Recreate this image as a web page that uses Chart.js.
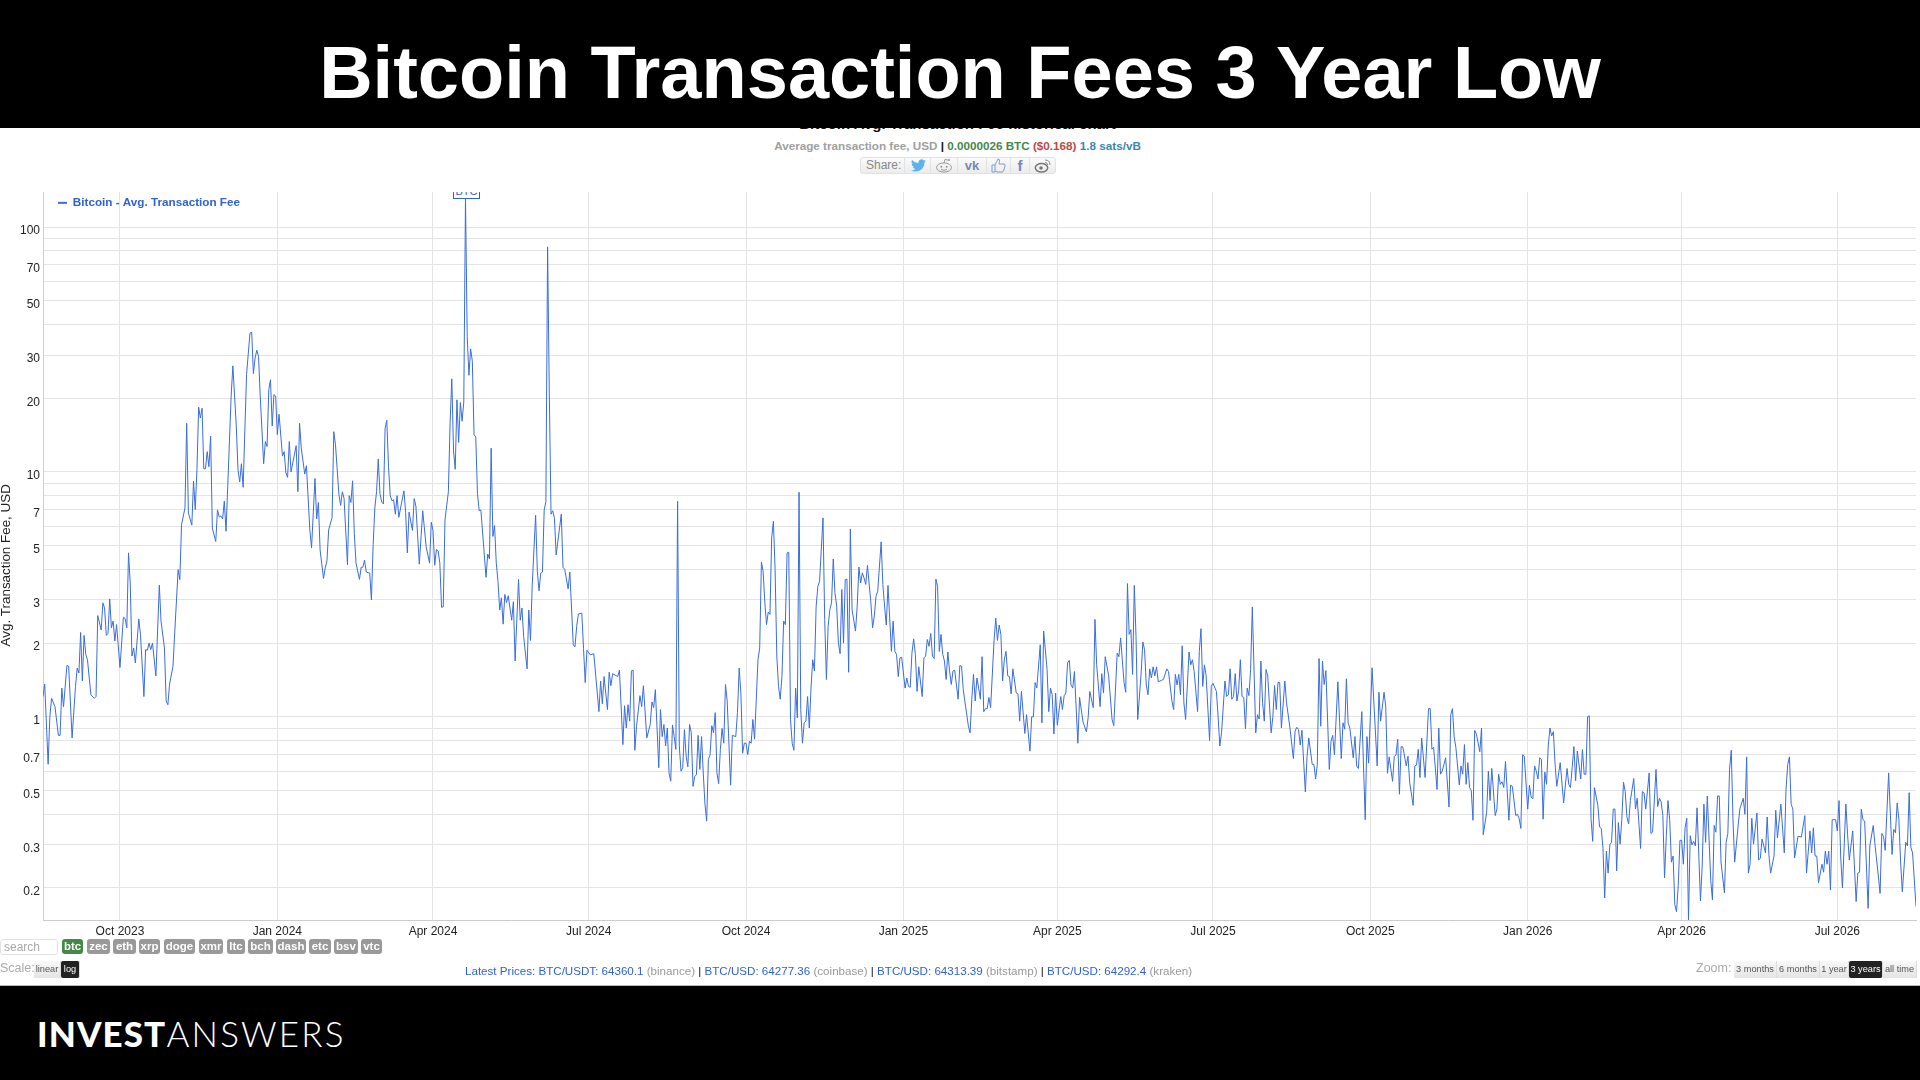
<!DOCTYPE html>
<html>
<head>
<meta charset="utf-8">
<title>Bitcoin Transaction Fees 3 Year Low</title>
<script src="https://cdn.jsdelivr.net/npm/chart.js@4"></script>
<style>
    html, body { margin: 0; padding: 0; width: 1920px; height: 1080px; overflow: hidden; background: #fff; font-family: 'Liberation Sans', Arial, sans-serif; }
    .abs { position: absolute; white-space: nowrap; }
    #topBand { left: 0; top: 0; width: 1920px; height: 128px; background: #000; z-index: 5; }
    #mainTitle { left: 0; top: 28px; width: 1920px; text-align: center; color: #fff; font-weight: bold; font-size: 74px; line-height: 90px; z-index: 6; }
    #bottomBand { left: 0; top: 985px; width: 1920px; height: 95px; background: #000; border-top: 1px solid #bbb; box-sizing: border-box; z-index: 5; }
    #logo { left: 37px; top: 1013px; color: #fff; font-family: Lato, sans-serif; font-size: 35px; line-height: 40px; z-index: 6; }
    #logo b { font-weight: 900; letter-spacing: 1.1px; }
    #logo span { font-weight: 300; letter-spacing: 2.2px; }
    #chartTitle { left: 0; top: 115px; width: 1915px; text-align: center; font-weight: bold; font-size: 15px; line-height: 18px; color: #111; }
    #subTitle { left: 0; top: 138px; width: 1915px; text-align: center; font-weight: bold; font-size: 11.7px; line-height: 15px; color: #a0a0a0; }
    #shareBar { left: 860px; top: 157px; width: 196px; height: 17px; background: linear-gradient(#fafafa, #ececec); border: 1px solid #e2e2e2; border-radius: 3px; box-sizing: border-box; }
    #shareBar .cell { position: absolute; top: 0; height: 15px; border-left: 1px solid #e2e2e2; text-align: center; }
    #shareBar .txt { position: absolute; left: 5px; top: 0; font-size: 12px; line-height: 15px; color: #888; }
    #btcFlag { left: 453px; top: 192px; width: 27px; height: 7px; overflow: hidden; z-index: 3; }
    #btcFlag div { position: absolute; left: 0; bottom: 0; width: 25px; height: 13px; border: 1px solid #2f62d4; background: #fff; color: #2f62d4; font-size: 11px; line-height: 13px; text-align: center; }
    .tag { position: absolute; top: 939px; height: 15px; line-height: 15px; background: #999; color: #fff; font-weight: bold; font-size: 11.5px; text-align: center; border-radius: 3px; }
    #search { left: 0; top: 939px; width: 58px; height: 16px; border: 1px solid #e2e2e2; border-radius: 3px; box-sizing: border-box; color: #aaa; font-size: 12px; line-height: 15px; padding-left: 3px; }
    .lbl { color: #aaa; font-size: 12.5px; line-height: 15px; top: 961px; }
    .btn { position: absolute; top: 961px; height: 17px; line-height: 17px; font-size: 9.2px; text-align: center; color: #555; background: linear-gradient(#f8f8f8, #e4e4e4); box-sizing: border-box; border-right: 1px solid #ddd; }
    .btn.on { background: #222; color: #fff; border-radius: 2px; }
    #prices { left: 465px; top: 963px; font-size: 11.6px; line-height: 15px; color: #2f62d4; }
    #prices i { font-style: normal; color: #999; }
    #prices u { text-decoration: none; color: #111; }
    #wrap { position: absolute; left: 0; top: 180px; width: 1920px; height: 790px; }
</style>
</head>
<body>
<div id="topBand" class="abs"></div>
<div id="mainTitle" class="abs">Bitcoin Transaction Fees 3 Year Low</div>
<div id="chartTitle" class="abs">Bitcoin Avg. Transaction Fee historical chart</div>
<div id="subTitle" class="abs">Average transaction fee, USD <span style="color:#111">|</span> <span style="color:#468847">0.0000026 BTC</span> <span style="color:#b94a48">($0.168)</span> <span style="color:#3a87ad">1.8 sats/vB</span></div>
<div id="shareBar" class="abs">
    <div class="txt">Share:</div>
    <div class="cell" style="left:43px;width:26px"><svg width="17" height="15" viewBox="0 0 24 24"><path fill="#5db2ec" d="M24 4.6a10 10 0 0 1-2.8.8 4.9 4.9 0 0 0 2.2-2.7 9.9 9.9 0 0 1-3.1 1.2 4.9 4.9 0 0 0-8.4 4.5A14 14 0 0 1 1.7 3.1a4.9 4.9 0 0 0 1.5 6.6 4.9 4.9 0 0 1-2.2-.6v.1a4.9 4.9 0 0 0 3.9 4.8 4.9 4.9 0 0 1-2.2.1 4.9 4.9 0 0 0 4.6 3.4A9.9 9.9 0 0 1 0 19.5a14 14 0 0 0 7.5 2.2c9 0 14-7.5 14-14v-.6A10 10 0 0 0 24 4.6z"/></svg></div>
    <div class="cell" style="left:69px;width:26px"><svg width="18" height="15" viewBox="0 0 18 15"><ellipse cx="9" cy="9.5" rx="7.5" ry="4.6" fill="none" stroke="#999"/><circle cx="6.3" cy="8.7" r="1" fill="#999"/><circle cx="11.7" cy="8.7" r="1" fill="#999"/><path d="M6 11.5q3 1.6 6 0M9 5l1-3.5 3 .6" fill="none" stroke="#999"/><circle cx="14" cy="2" r="1" fill="#999"/></svg></div>
    <div class="cell" style="left:96px;width:28px;color:#6f8bb0;font-weight:bold;font-size:13px;line-height:15px">vk</div>
    <div class="cell" style="left:125px;width:23px"><svg width="15" height="15" viewBox="0 0 15 15"><path d="M1 7h3v7H1zM4 7l3-6q2 0 1.5 2.5L8 6h5q1.500 0 1 2l-1.500 5q-.4 1-1.500 1H6l-2-1" fill="none" stroke="#7f9bd0"/></svg></div>
    <div class="cell" style="left:149px;width:18px;color:#7088ba;font-weight:bold;font-size:15px;line-height:15px">f</div>
    <div class="cell" style="left:168px;width:26px"><svg width="18" height="15" viewBox="0 0 18 15"><ellipse cx="7.500" cy="9.800" rx="6.200" ry="4.200" fill="none" stroke="#777" stroke-width="1.500"/><circle cx="7" cy="10" r="1.800" fill="#777"/><path d="M11 2q5 0 5 5M11 4.500q2.500 0 2.500 2.500" fill="none" stroke="#888"/></svg></div>
</div>
<div id="wrap"><canvas id="feeChart" width="1920" height="790"></canvas></div>
<div id="btcFlag" class="abs"><div>BTC</div></div>
<div id="search" class="abs">search</div>
<div class="tag" style="left:62px;width:21px;background:#468847">btc</div>
<div class="tag" style="left:87px;width:23px">zec</div>
<div class="tag" style="left:113px;width:23px">eth</div>
<div class="tag" style="left:139px;width:21px">xrp</div>
<div class="tag" style="left:164px;width:31px">doge</div>
<div class="tag" style="left:199px;width:24px">xmr</div>
<div class="tag" style="left:227px;width:18px">ltc</div>
<div class="tag" style="left:248px;width:25px">bch</div>
<div class="tag" style="left:276px;width:30px">dash</div>
<div class="tag" style="left:309px;width:22px">etc</div>
<div class="tag" style="left:334px;width:24px">bsv</div>
<div class="tag" style="left:361px;width:21px">vtc</div>
<div class="abs lbl" style="left:0">Scale:</div>
<div class="btn" style="left:34px;width:27px">linear</div>
<div class="btn on" style="left:61px;width:19px">log</div>
<div id="prices" class="abs">Latest Prices: BTC/USDT: 64360.1 <i>(binance)</i> <u>|</u> BTC/USD: 64277.36 <i>(coinbase)</i> <u>|</u> BTC/USD: 64313.39 <i>(bitstamp)</i> <u>|</u> BTC/USD: 64292.4 <i>(kraken)</i></div>
<div class="abs lbl" style="left:1696px">Zoom:</div>
<div class="btn" style="left:1734px;width:43px">3 months</div>
<div class="btn" style="left:1777px;width:43px">6 months</div>
<div class="btn" style="left:1820px;width:29px">1 year</div>
<div class="btn on" style="left:1849px;width:34px">3 years</div>
<div class="btn" style="left:1883px;width:34px">all time</div>
<div id="bottomBand" class="abs"></div>
<div id="logo" class="abs"><b>INVEST</b><span>ANSWERS</span></div>

<script>
// Dias contados desde 2023-08-17
const days = [
    0,1,3,4,5,7,9,10,11,12,
    14,15,17,19,20,21,22,23,24,25,
    26,28,30,31,32,34,35,36,37,38,
    39,40,41,42,43,45,47,48,49,50,
    51,52,53,54,56,57,59,60,61,62,
    63,64,66,68,69,71,72,73,74,76,
    77,79,80,81,83,84,85,87,88,89,
    90,91,92,93,94,95,96,97,98,99,
    101,102,103,104,105,106,107,108,110,111,
    113,114,115,116,117,119,121,122,123,124,
    125,126,127,129,130,131,132,133,134,135,
    136,137,138,140,141,142,143,144,145,148,
    149,150,151,153,154,156,157,159,160,161,
    162,164,165,166,167,169,170,171,173,174,
    175,176,178,179,180,181,182,
    183,185,186,187,188,189,191,192,193,194,
    195,196,197,198,199,200,201,202,203,204,
    205,206,207,208,211,212,213,214,216,217,
    218,220,222,224,226,227,228,229,230,231,
    232,233,234,235,237,238,239,240,241,242,
    243,244,245,246,247,248,249,250,251,252,
    253,254,255,256,259,260,261,262,263,264,
    265,266,267,268,269,270,271,272,274,275,
    276,278,279,280,281,283,284,285,286,288,
    289,290,291,292,293,294,295,296,297,298,
    299,300,303,304,305,307,308,310,311,312,
    313,315,316,317,318,320,322,325,326,327,
    328,330,331,332,333,336,337,339,340,341,
    342,343,344,345,346,347,349,350,351,353,
    355,356,357,358,360,361,362,363,364,365,
    366,367,368,369,370,371,372,373,374,375,
    376,377,378,379,380,381,382,383,384,385,
    386,387,388,389,390,391,392,393,394,395,
    396,397,398,399,400,402,403,405,406,407,
    408,409,410,411,412,413,414,415,416,417,
    418,419,420,421,422,423,424,425,426,427,
    428,429,430,431,432,433,434,435,436,437,
    438,439,440,441,442,443,444,445,446,447,
    448,449,450,451,452,453,454,456,457,458,
    459,460,461,462,463,464,465,466,467,468,
    469,470,471,472,473,475,476,477,478,479,
    480,481,482,484,485,486,487,488,490,491,
    492,493,494,496,497,498,499,500,501,502,
    504,505,506,507,508,509,510,511,512,514,
    515,516,517,518,519,520,521,522,523,524,
    525,526,527,528,529,530,531,532,533,535,
    536,537,538,541,542,543,544,545,546,547,
    548,549,550,551,552,553,554,556,557,558,
    559,560,561,562,563,564,565,566,567,569,
    570,571,572,574,575,577,578,579,580,581,
    583,584,585,587,588,589,590,591,592,593,
    595,596,597,598,599,600,601,602,603,605,
    606,608,610,611,612,614,615,616,618,619,
    620,621,623,625,626,628,629,630,632,633,
    634,635,636,637,638,639,640,642,643,644,
    645,646,647,648,649,650,651,652,654,655,
    657,658,660,661,662,663,664,665,666,667,
    668,670,671,672,673,675,676,677,678,679,
    680,682,683,684,686,687,688,689,691,692,
    693,694,695,696,697,698,699,700,701,702,
    703,704,705,706,707,709,710,711,712,713,
    714,715,716,718,719,720,721,722,723,724,
    726,727,729,
    731,732,733,734,735,736,738,739,740,742,
    743,744,745,746,747,748,749,750,752,753,
    754,755,757,759,760,761,762,763,764,766,
    767,768,769,771,773,774,775,776,777,780,
    781,782,784,785,786,787,789,790,791,792,
    793,794,795,797,798,799,801,802,803,804,
    805,806,808,810,811,812,813,815,816,817,
    818,820,822,823,824,825,826,828,829,830,
    831,832,833,834,835,836,837,838,840,841,
    842,844,845,846,847,849,850,851,852,853,
    854,855,857,858,859,861,862,863,864,865,
    866,868,869,870,871,872,873,874,875,876,
    877,878,879,880,881,882,883,884,885,887,
    889,891,892,893,895,896,897,899,900,901,
    902,903,904,905,906,907,909,910,911,912,
    913,914,915,916,917,918,919,920,921,922,
    923,924,925,926,927,928,930,931,932,934,
    935,936,937,939,940,941,943,944,945,946,
    947,948,949,950,951,952,953,954,955,956,
    957,958,959,960,961,962,963,964,965,966,
    967,969,970,971,972,973,975,976,977,978,
    979,980,981,983,984,985,986,987,988,989,
    991,992,994,995,996,997,998,999,1000,1002,
    1003,1004,1005,1007,1008,1009,1010,1012,1013,1014,
    1016,1018,1019,1020,1021,1022,1023,1024,1026,1028,
    1030,1031,1033,1034,1035,1036,1037,1038,1040,1041,
    1042,1043,1044,1045,1046,1048,1049,1050,1051,1052,
    1054,1055,1056,1058,1060,1061,1062,1063,1064,1065,
    1067,1068,1070,1071,1072,1074,1075,1076,1077,1079,
    1081,1082,1083,1084,1085,1086,1087,1089,1090,1091,
    1092,1093,1095
];

const fees = [
    1.21,1.36,.64,1.0,1.19,1.10,.84,.84,1.31,1.10,
    1.62,1.61,.82,1.33,1.58,1.51,2.21,1.40,2.15,1.80,
    1.71,1.23,1.19,1.21,2.59,2.26,2.92,2.78,2.15,2.19,
    3.03,2.31,2.46,2.04,2.38,1.59,2.55,2.52,2.31,4.67,
    3.52,1.77,1.91,1.66,2.51,2.17,1.21,1.88,1.87,2.0,
    1.88,2.0,1.47,3.45,2.46,1.91,1.16,1.12,1.36,1.61,
    2.2,3.99,3.63,6.09,7.13,15.8,6.8,6.06,9.16,7.02,
    10.2,18.4,16.6,18.2,10.3,10.3,12.1,10.5,14.0,5.9,
    5.2,7.0,6.55,6.6,6.43,7.6,5.72,8.7,20.4,27.1,
    15.4,10.2,9.1,10.8,8.65,25,36.9,37.2,25.2,29.2,
    31.4,29.6,20.4,10.8,13.3,12.7,21.7,23.8,15.4,20.7,
    20.4,14.2,17.2,11.6,12.1,9.9,9.5,13.3,10,12.8,
    8.3,15.8,12.5,9.8,10.6,5.8,4.9,9.4,6.43,7.5,
    4.8,3.67,4.06,4.32,5.8,6.5,14.6,12.9,8.1,7.3,
    8.3,7.8,4.18,8.0,7.5,9.2,5.6,
    4.24,3.64,4.08,4.08,4.36,3.9,3.86,3.0,5.04,7.12,
    8.3,11.3,8.15,7.55,7.4,15.05,16.25,10.45,8.0,7.63,
    7.7,6.72,8.0,6.52,8.37,6.85,4.67,6.85,5.77,7.78,
    7.26,4.2,6.94,4.95,4.24,6.23,5.77,4.16,4.82,4.76,
    4.24,2.8,2.81,6.35,8.3,15.9,24.0,12.2,10.25,19.7,
    13.2,19.2,16.1,19.3,131.5,35.7,24.8,31.8,28.3,14.2,
    13.9,8.15,6.94,6.99,3.71,4.62,4.41,12.5,5.45,6.04,
    4.24,3.57,2.73,3.06,2.39,3.16,2.93,3.12,2.48,2.95,
    1.69,3.64,2.48,2.78,2.13,1.57,2.73,2.05,3.44,6.65,
    3.93,3.27,3.86,3.9,6.99,7.55,83,20.9,6.72,6.94,
    6.47,4.58,6.72,4.08,4.0,3.33,3.9,1.97,1.93,2.34,
    2.63,2.65,1.9,1.38,1.87,1.79,1.81,1.05,1.4,1.13,
    1.46,1.07,1.52,1.34,1.5,1.46,1.55,.77,1.11,.9,
    1.12,.96,1.54,1.55,.73,.915,1.22,1.1,1.34,.82,
    .93,1.15,1.09,1.29,.62,1.07,.83,.93,.76,.9,
    .59,.546,.925,.83,.736,7.59,.76,.6,.62,.887,
    .69,.625,.93,.86,.52,.57,.58,.84,.61,.83,
    .59,.44,.375,.67,.70,.92,.86,1.04,.59,.533,
    .736,.896,.78,1.355,1.16,.526,.84,.83,1.04,1.58,
    1.25,.71,.78,.78,.70,.795,.78,.975,.81,1.18,
    1.71,1.91,4.28,3.93,2.92,2.38,2.68,2.62,5.38,6.29,
    3.99,1.77,1.33,1.18,1.46,2.46,2.38,4.67,4.7,.975,
    .78,.73,1.31,.99,8.26,1.07,.78,.945,.96,1.21,
    .90,1.31,1.71,1.54,2.83,3.41,3.58,6.49,2.5,1.42,
    2.34,2.74,2.92,4.41,3.21,2.83,2.0,1.81,3.31,2.0,
    3.63,3.65,1.52,5.85,2.74,2.24,2.83,4.09,3.52,3.87,
    3.69,3.47,4.15,2.92,2.31,2.58,3.11,3.26,5.18,3.47,
    2.83,2.37,3.44,1.85,2.46,1.85,1.80,1.46,1.74,1.75,
    1.31,1.44,1.33,1.32,1.82,2.08,1.80,1.27,1.6,1.21,
    1.74,1.77,2.07,1.94,2.19,1.77,1.73,3.65,3.41,1.85,
    2.17,1.80,1.69,1.42,1.84,1.54,1.355,1.54,1.55,1.18,
    1.62,1.61,1.29,.916,.86,1.18,1.49,1.16,1.44,1.31,
    1.18,1.76,1.05,1.08,1.08,1.20,1.09,2.04,2.53,2.05,
    2.37,2.17,1.40,1.71,1.85,1.47,1.46,1.24,1.57,1.25,
    1.24,.96,1.27,.855,1.02,.724,1.0,1.0,1.38,1.31,
    1.97,.945,2.24,1.56,1.05,1.31,1.23,.85,1.25,.925,
    1.21,1.07,1.22,1.25,1.66,1.70,1.35,1.31,1.53,.78,
    1.20,.954,.868,.99,1.27,1.09,2.5,1.63,1.10,1.50,
    1.25,1.76,1.47,.975,.92,1.82,1.76,2.1,1.38,1.26,
    3.5,2.17,2.27,1.49,3.44,2.13,.975,1.51,2.02,1.88,
    1.35,1.23,1.57,1.44,1.60,1.47,1.6,1.39,1.41,1.42,
    1.57,1.53,1.16,1.07,1.49,1.35,1.49,1.23,1.95,1.14,
    .975,1.84,1.63,1.71,1.53,1.05,1.85,2.29,1.33,1.63,
    1.47,.80,1.33,1.37,1.27,1.0,.76,.86,1.40,1.21,
    1.23,1.57,1.18,1.21,1.50,1.16,1.28,1.71,1.21,1.20,
    .893,1.31,1.22,1.56,2.81,.86,1.02,.98,1.69,1.14,
    .96,1.56,1.47,.86,1.0,1.34,1.07,1.38,1.38,.90,
    1.40,1.14,.90,
    .675,.874,.906,.887,.767,.88,.493,.69,.82,.64,
    .64,.557,.64,1.73,.915,1.69,1.355,1.545,.61,.795,
    .84,.70,1.39,.675,.945,.89,1.43,.945,.90,.68,
    .83,.63,.615,1.05,.38,.83,.647,1.0,1.585,.63,
    1.26,.96,1.26,1.105,.588,.686,.545,.688,.70,.81,
    .483,.756,.753,.63,.69,.54,.435,.63,.635,.737,
    .565,.82,.565,1.08,1.08,.737,.75,.505,.90,.583,
    .60,.68,.428,1.02,1.08,.83,.75,.527,.63,.583,
    .77,.53,.65,.514,.50,.378,.88,.85,.72,.90,
    .33,.407,.60,.455,.615,.395,.42,.583,.53,.543,
    .514,.657,.378,.526,.52,.395,.40,.384,.35,.70,
    .69,.42,.526,.47,.463,.63,.60,.557,.68,.67,
    .382,.595,.53,.76,.90,.835,.87,.64,.52,.65,
    .445,.615,.53,.514,.756,.548,.725,.557,.735,.583,
    .583,1.0,1.01,.384,.31,.514,.435,.355,.35,.29,
    .182,.283,.23,.30,.307,.42,.42,.235,.37,.302,
    .38,.54,.495,.39,.365,.455,.56,.42,.465,.29,
    .495,.49,.42,.59,.334,.338,.61,.43,.465,.45,
    .395,.22,.325,.455,.38,.255,.27,.171,.16,.205,
    .313,.313,.25,.352,.385,.148,.327,.30,.31,.297,
    .425,.177,.246,.44,.307,.475,.215,.179,.36,.338,
    .475,.475,.255,.191,.307,.334,.61,.73,.38,.255,
    .358,.42,.465,.40,.686,.23,.25,.385,.302,.405,
    .26,.265,.317,.278,.39,.274,.23,.27,.415,.32,
    .44,.278,.505,.638,.686,.44,.42,.265,.325,.323,
    .395,.23,.342,.278,.352,.27,.27,.21,.25,.232,
    .283,.25,.283,.196,.38,.38,.342,.455,.265,.20,
    .44,.33,.26,.342,.176,.23,.232,.42,.38,.375,
    .165,.297,.36,.302,.26,.19,.334,.325,.285,.59,
    .274,.347,.336,.445,.38,.255,.193,.307,.297,.49,
    .293,.278,.168
];

// Ejes
const xTickDays = [45, 137, 228, 319, 411, 503, 593, 684, 776, 868, 958, 1049];
const xTickLabels = ['Oct 2023', 'Jan 2024', 'Apr 2024', 'Jul 2024', 'Oct 2024', 'Jan 2025', 'Apr 2025', 'Jul 2025', 'Oct 2025', 'Jan 2026', 'Apr 2026', 'Jul 2026'];
const yGridValues = [100, 90, 80, 70, 60, 50, 40, 30, 20, 10, 9, 8, 7, 6, 5, 4, 3, 2, 1, 0.9, 0.8, 0.7, 0.6, 0.5, 0.4, 0.3, 0.2];
const yLabeledValues = [100, 70, 50, 30, 20, 10, 7, 5, 3, 2, 1, 0.7, 0.5, 0.3, 0.2];

const lineColor = '#3a6ddb';

Chart.defaults.font.family = "'Liberation Sans', Arial, sans-serif";

const ctx = document.getElementById('feeChart').getContext('2d');

// La leyenda va dentro del area del grafico, un poco separada del eje
const legendOffset = {
    id: 'legendOffset',
    afterLayout(chart) {
        chart.legend.left += 10;
        chart.legend.top += 12;
    }
};

const chart = new Chart(ctx, {
    type: 'line',
    data: {
        datasets: [{
            label: 'Bitcoin - Avg. Transaction Fee',
            data: days.map((d, i) => ({ x: d, y: fees[i] })),
            borderColor: lineColor,
            borderWidth: 1,
            tension: 0,
            pointRadius: 0,
            fill: false
        }]
    },
    options: {
        responsive: false,
        animation: false,
        parsing: false,
        layout: {
            padding: { top: 12, right: 4, left: 0, bottom: 0 }
        },
        plugins: {
            tooltip: { enabled: false },
            legend: {
                position: 'chartArea',
                align: 'start',
                labels: {
                    color: '#2f62d4',
                    font: { size: 11.7, weight: 'bold' },
                    padding: 5,
                    usePointStyle: true,
                    pointStyle: 'line',
                    pointStyleWidth: 9,
                    generateLabels(c) {
                        const items = Chart.defaults.plugins.legend.labels.generateLabels(c);
                        items[0].lineWidth = 2;
                        return items;
                    }
                }
            }
        },
        scales: {
            x: {
                type: 'linear',
                min: 0,
                max: 1095,
                afterFit(scale) { scale.height = 50; },
                afterBuildTicks(scale) {
                    scale.ticks = xTickDays.map(v => ({ value: v }));
                },
                grid: { color: '#e4e4e4', lineWidth: 1, drawTicks: false },
                border: { color: '#cccccc', width: 1 },
                ticks: {
                    color: '#222222',
                    font: { size: 12 },
                    padding: 4,
                    maxRotation: 0,
                    autoSkip: false,
                    callback(value) {
                        return xTickLabels[xTickDays.indexOf(value)];
                    }
                }
            },
            y: {
                type: 'logarithmic',
                min: 0.148,
                max: 139,
                afterFit(scale) { scale.width = 43; },
                afterBuildTicks(scale) {
                    scale.ticks = yGridValues.map(v => ({ value: v }));
                },
                grid: { color: '#e4e4e4', lineWidth: 1, drawTicks: false },
                border: { color: '#cfcfcf', width: 1 },
                ticks: {
                    color: '#222222',
                    font: { size: 12 },
                    padding: 3,
                    labelOffset: 4,
                    autoSkip: false,
                    callback(value) {
                        return yLabeledValues.includes(value) ? String(value) : '';
                    }
                },
                title: {
                    display: true,
                    // espacios finales para bajar el titulo como en el original
                    text: 'Avg. Transaction Fee, USD\u00A0\u00A0\u00A0\u00A0\u00A0',
                    color: '#222222',
                    font: { size: 13.4 },
                    padding: { top: -2, bottom: 0 }
                }
            }
        }
    },
    plugins: [legendOffset]
});
</script>
</body>
</html>
